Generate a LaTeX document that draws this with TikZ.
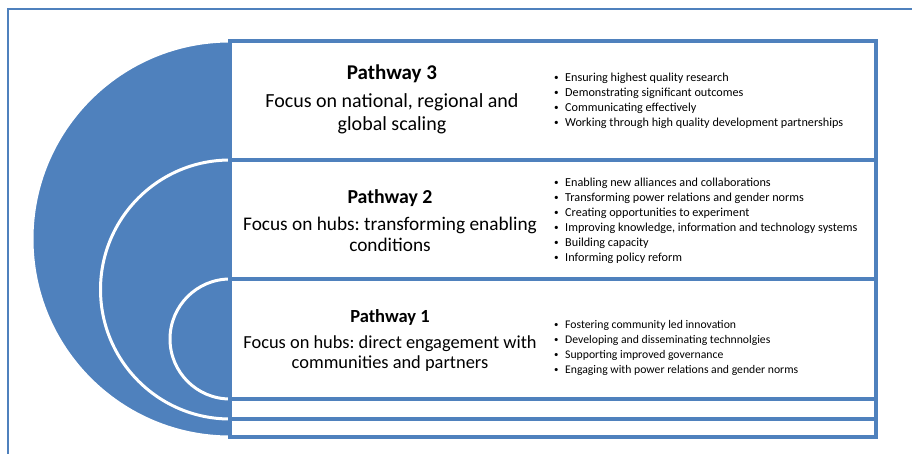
\documentclass[tikz,border=0pt]{standalone}
\usepackage{fontspec}
\setmainfont{Carlito}
\usetikzlibrary{positioning}
\definecolor{pathblue}{HTML}{4F81BD}
\newcommand{\bul}{\makebox[11pt][l]{\raisebox{0.15ex}{\scalebox{0.75}{\textbullet}}}}
\frenchspacing

\begin{document}
\begin{tikzpicture}[x=1pt, y=-1pt, node distance=10pt,
    title/.style = {font=\fontsize{21}{24}\selectfont\bfseries, inner sep=0pt},
    focus/.style = {font=\fontsize{20}{23}\selectfont, align=center, inner sep=0pt},
    bullets/.style = {font=\fontsize{12.2}{15}\selectfont, align=left, inner sep=0pt, anchor=west},
    half/.style = {fill=pathblue, draw=white, line width=3pt},
    band/.style = {fill=white, draw=pathblue, line width=4pt}]
    \useasboundingbox (0,0) rectangle (912,454);

    % outer frame
    \draw[pathblue, line width=1.5pt] (8,460) |- (920,9);

    % nested half discs and bands
    \draw[half] (230,437) arc[start angle=90, end angle=270, radius=198] -- cycle;
    \draw[band] (230,41) rectangle (876,437);
    \draw[half] (230,419) arc[start angle=90, end angle=270, radius=129.5] -- cycle;
    \draw[band] (230,160) rectangle (876,419);
    \draw[half] (230,399) arc[start angle=90, end angle=270, radius=60] -- cycle;
    \draw[band] (230,279) rectangle (876,399);

    % pathway 3
    \node[title] (t3) at (392,74) {Pathway 3};
    \node[focus] (f3) [below=of t3] {Focus on national, regional and\\global scaling};
    \node[bullets] (b3) at (554,100.5) {\bul Ensuring highest quality research\\
        \bul Demonstrating significant outcomes\\
        \bul Communicating effectively\\
        \bul Working through high quality development partnerships};

    % pathway 2
    \node[title, font=\fontsize{19.8}{24}\selectfont\bfseries] (t2) at (390,198) {Pathway 2};
    \node[focus, font=\fontsize{19.3}{21}\selectfont] (f2) [below=10pt of t2] {Focus on hubs: transforming enabling\\conditions};
    \node[bullets] (b2) at (554,220.5) {\bul Enabling new alliances and collaborations\\
        \bul Transforming power relations and gender norms\\
        \bul Creating opportunities to experiment\\
        \bul Improving knowledge, information and technology systems\\
        \bul Building capacity\\
        \bul Informing policy reform};

    % pathway 1
    \node[title, font=\fontsize{18.5}{24}\selectfont\bfseries] (t1) at (390,317) {Pathway 1};
    \node[focus, font=\fontsize{18.4}{20}\selectfont] (f1) [below=10pt of t1] {Focus on hubs: direct engagement with\\communities and partners};
    \node[bullets, font=\fontsize{11.7}{15}\selectfont] (b1) at (554,347.5) {\bul Fostering community led innovation\\
        \bul Developing and disseminating technnolgies\\
        \bul Supporting improved governance\\
        \bul Engaging with power relations and gender norms};
\end{tikzpicture}
\end{document}
